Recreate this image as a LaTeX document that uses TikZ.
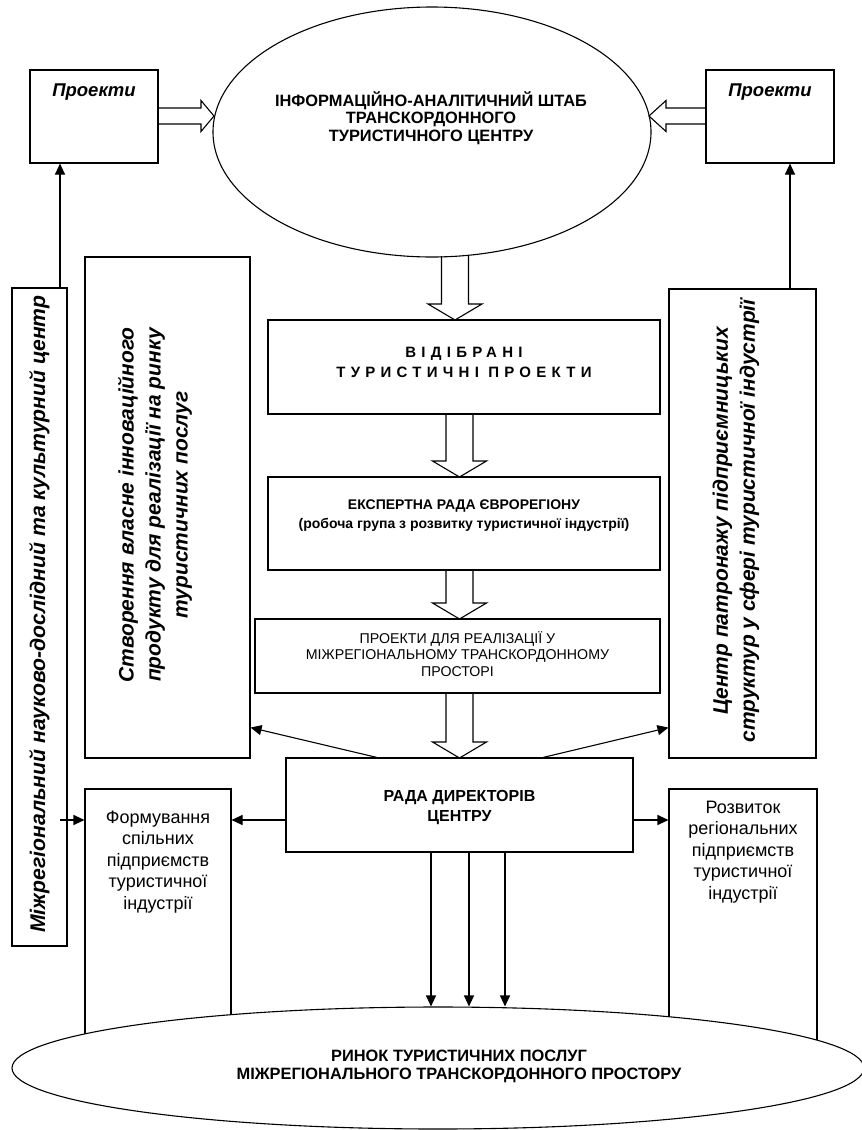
\documentclass[tikz,border=0pt]{standalone}
\usepackage{fontspec}
\setmainfont{Liberation Sans}
\usetikzlibrary{arrows.meta,shapes.geometric,calc}
\newcommand\fsz[2]{\fontsize{#1}{#2}\selectfont}
\newcommand\vblk[3]{\draw[blk] ({#1-13.5},#2) -- ({#1-13.5},{#3-16}) -- ({#1-27},{#3-16}) -- (#1,#3) -- ({#1+27},{#3-16}) -- ({#1+13.5},{#3-16}) -- ({#1+13.5},#2);}
\newcommand\hblk[4]{\draw[blk] (#1,{#3-8}) -- ({#2-#4},{#3-8}) -- ({#2-#4},{#3-15.5}) -- (#2,#3) -- ({#2-#4},{#3+15.5}) -- ({#2-#4},{#3+8}) -- (#1,{#3+8});}
\begin{document}
\begin{tikzpicture}[x=1pt,y=-1pt,
  box/.style={draw, line width=1.1pt, rectangle, inner sep=0pt},
  txt/.style={inner sep=0pt, align=center},
  arr/.style={draw, line width=1.1pt, -{Triangle[length=11pt,width=10pt]}},
  blk/.style={draw, line width=1.1pt, line join=miter},
  oval/.style={draw, ellipse, line width=1.1pt, inner sep=0pt, fill=white}]
\useasboundingbox (0,0) rectangle (862,1130);

% top ellipse
\node[oval, minimum width=438pt, minimum height=250pt] (e1) at (432,132) {};
\node[txt, font=\fsz{16.4}{17.5}\bfseries] (t1) at (431,118)
  {ІНФОРМАЦІЙНО-АНАЛІТИЧНИЙ ШТАБ\\ТРАНСКОРДОННОГО\\ТУРИСТИЧНОГО ЦЕНТРУ};

% project boxes
\node[box, minimum width=128pt, minimum height=93pt] (pl) at (94,116.5) {};
\node[txt, font=\fsz{18.5}{20}\bfseries\itshape] (plt) at (94,92) {Проекти};
\node[box, minimum width=128pt, minimum height=93pt] (pr) at (770,116.5) {};
\node[txt, font=\fsz{18.5}{20}\bfseries\itshape] (prt) at (770,92) {Проекти};

% block arrows into the ellipse
\hblk{158}{214}{116}{13}
\hblk{706}{649}{116}{-17}

% vertical side boxes
\node[box, minimum width=55pt, minimum height=658pt] (lv) at (39.5,617) {};
\node[txt, rotate=90, font=\fsz{21.2}{27}\bfseries\itshape] (lvt) at (39.5,614)
  {Міжрегіональний науково-дослідний та культурний центр};
\node[box, minimum width=165pt, minimum height=501pt] (cr) at (167.5,507.5) {};
\node[txt, rotate=90, font=\fsz{21}{27}\bfseries\itshape] (crt) at (155,505)
  {Створення власне інноваційного\\продукту для реалізації на ринку\\туристичних послуг};
\node[box, minimum width=147pt, minimum height=469pt] (rc) at (742.5,523.5) {};
\node[txt, rotate=90, font=\fsz{21}{27}\bfseries\itshape] (rct) at (736,521)
  {Центр патронажу підприємницьких\\структур у сфері туристичної індустрії};

% central chain
\node[box, minimum width=392pt, minimum height=94pt] (vb) at (464,367) {};
\node[txt, font=\fsz{15}{20}\bfseries\addfontfeature{LetterSpace=35}] (vbt) at (464,362)
  {ВІДІБРАНІ\\ТУРИСТИЧНІ ПРОЕКТИ};
\node[box, minimum width=392pt, minimum height=93pt] (ex) at (464,523.5) {};
\node[txt, font=\fsz{14}{19}\bfseries] (ext) at (464,516)
  {ЕКСПЕРТНА РАДА ЄВРОРЕГІОНУ\\(робоча група з розвитку туристичної індустрії)};
\node[box, minimum width=405pt, minimum height=74pt] (pp) at (457.5,656) {};
\node[txt, font=\fsz{14.2}{16.5}] (ppt) at (457.5,654)
  {ПРОЕКТИ ДЛЯ РЕАЛІЗАЦІЇ У\\МІЖРЕГІОНАЛЬНОМУ ТРАНСКОРДОННОМУ\\ПРОСТОРІ};
\node[box, minimum width=347pt, minimum height=94pt] (rd) at (459.5,805) {};
\node[txt, font=\fsz{16}{20}\bfseries] (rdt) at (459.5,807)
  {РАДА ДИРЕКТОРІВ\\ЦЕНТРУ};

\vblk{455}{256}{320}
\vblk{459.5}{414}{477}
\vblk{459.5}{570}{619}
\vblk{459.5}{693}{758}

% lower side boxes (behind the bottom ellipse)
\node[box, minimum width=146pt, minimum height=256pt] (fm) at (158,917) {};
\node[txt, font=\fsz{18}{21.5}] (fmt) at (158,862)
  {Формування\\спільних\\підприємств\\туристичної\\індустрії};
\node[box, minimum width=148pt, minimum height=256pt] (rz) at (743,917) {};
\node[txt, font=\fsz{18}{21.5}] (rzt) at (743,852)
  {Розвиток\\регіональних\\підприємств\\туристичної\\індустрії};

% bottom ellipse
\node[oval, minimum width=852pt, minimum height=122pt] (e2) at (438,1068) {};
\node[txt, font=\fsz{16.4}{18}\bfseries] (t2) at (459,1066)
  {РИНОК ТУРИСТИЧНИХ ПОСЛУГ\\МІЖРЕГІОНАЛЬНОГО ТРАНСКОРДОННОГО ПРОСТОРУ};

% thin arrows
\draw[arr] ([xshift=20.5pt]lv.north) -- ([xshift=20.5pt]lv.north |- pl.south);
\draw[arr] ([xshift=47.5pt]rc.north) -- ([xshift=47.5pt]rc.north |- pr.south);
\draw[arr] ([xshift=-82.5pt]rd.north) -- ($(cr.south east)+(0,-31)$);
\draw[arr] ([xshift=83.5pt]rd.north) -- ($(rc.south west)+(0,-31)$);
\draw[arr] ([yshift=-15pt]rd.west) -- ([yshift=-15pt]rd.west -| fm.east);
\draw[arr] ([yshift=-15pt]rd.east) -- ([yshift=-15pt]rd.east -| rz.west);
\coordinate (lvout) at (60,820);
\draw[arr] (lvout) -- (lvout -| fm.west);
\draw[arr] ([xshift=-28.5pt]rd.south) -- ([xshift=-28.5pt]rd.south |- e2.north);
\draw[arr] ([xshift=9.5pt]rd.south) -- ([xshift=9.5pt]rd.south |- e2.north);
\draw[arr] ([xshift=45.5pt]rd.south) -- ([xshift=45.5pt]rd.south |- e2.north);
\end{tikzpicture}
\end{document}
